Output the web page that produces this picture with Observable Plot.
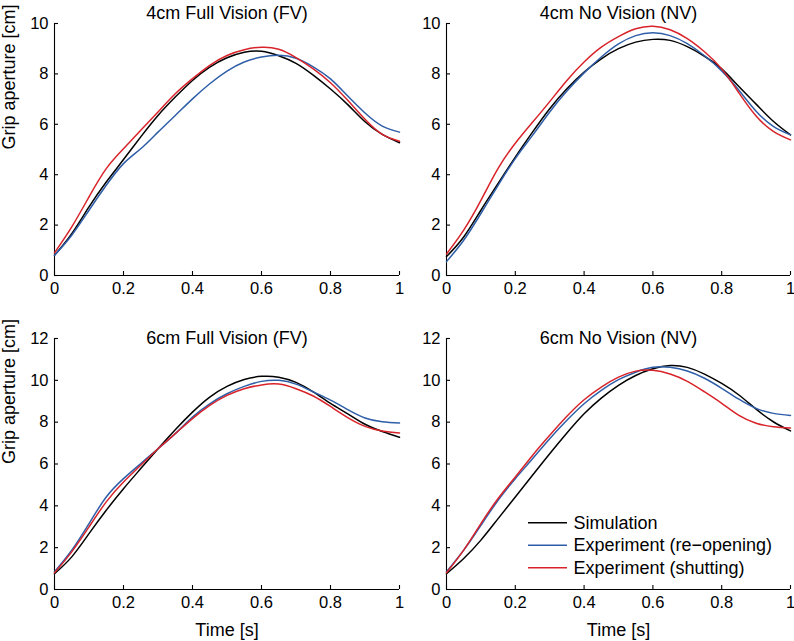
<!DOCTYPE html>
<html><head><meta charset="utf-8">
<script src="https://cdn.jsdelivr.net/npm/d3@7"></script>
<script src="https://cdn.jsdelivr.net/npm/@observablehq/plot@0.6"></script>
<style>
body{margin:0;background:#fff;}
#root{position:relative;width:794px;height:641px;overflow:hidden;font-family:"Liberation Sans",Arial,sans-serif;background:#fff;}
.panel{position:absolute;}
#legend{position:absolute;left:0;top:0;}
</style></head><body><div id="root"></div>
<script>
// ---- data ----
const time = [0,0.05,0.1,0.15,0.2,0.25,0.3,0.35,0.4,0.45,0.5,0.55,0.6,0.65,0.7,0.75,0.8,0.85,0.9,0.95,1];
const seriesNames = ["Simulation","Experiment (re\u2212opening)","Experiment (shutting)"];
const seriesColors = ["#000000","#2f5ea8","#d8232a"];
const panelTitles = ["4cm Full Vision (FV)","4cm No Vision (NV)","6cm Full Vision (FV)","6cm No Vision (NV)"];
const xTicks = [0,0.2,0.4,0.6,0.8,1];
const yTicksTop = [0,2,4,6,8,10];
const yTicksBottom = [0,2,4,6,8,10,12];
const yLabel = "Grip aperture [cm]";
const xLabel = "Time [s]";

// 4cm FV
const sim4FV  = [0.8,1.66,2.72,3.71,4.6,5.5,6.35,7.08,7.74,8.27,8.64,8.86,8.9,8.72,8.42,7.95,7.4,6.78,6.1,5.6,5.27];
const reo4FV  = [0.8,1.6,2.59,3.58,4.44,5.03,5.69,6.35,7.01,7.61,8.11,8.47,8.67,8.74,8.62,8.28,7.8,7.12,6.45,5.93,5.69];
const shut4FV = [0.9,1.93,3.12,4.24,5.03,5.76,6.49,7.21,7.81,8.34,8.73,8.96,9.06,8.98,8.65,8.2,7.65,6.95,6.2,5.6,5.33];
// 4cm NV
const sim4NV  = [0.75,1.53,2.59,3.65,4.7,5.69,6.62,7.41,8.07,8.6,9.0,9.26,9.37,9.33,9.08,8.7,8.2,7.5,6.8,6.12,5.58];
const reo4NV  = [0.55,1.4,2.46,3.58,4.64,5.56,6.49,7.32,8.04,8.67,9.19,9.52,9.63,9.52,9.2,8.72,8.12,7.35,6.52,5.92,5.58];
const shut4NV = [0.85,1.8,2.98,4.25,5.25,6.08,6.9,7.74,8.47,9.06,9.48,9.79,9.89,9.75,9.4,8.88,8.2,7.25,6.33,5.72,5.38];
// 6cm FV
const sim6FV  = [0.75,1.56,2.67,3.79,4.82,5.78,6.73,7.64,8.48,9.2,9.71,10.04,10.19,10.15,9.9,9.45,8.9,8.4,7.9,7.55,7.28];
const reo6FV  = [0.85,1.88,3.15,4.42,5.3,6.02,6.73,7.45,8.24,8.88,9.36,9.71,9.95,10.0,9.82,9.45,9.05,8.6,8.2,8.02,7.96];
const shut6FV = [0.8,1.8,2.99,4.19,5.14,5.94,6.73,7.45,8.17,8.8,9.28,9.6,9.78,9.82,9.6,9.25,8.75,8.22,7.8,7.58,7.48];
// 6cm NV
const sim6NV  = [0.75,1.48,2.36,3.39,4.42,5.46,6.49,7.48,8.4,9.15,9.76,10.23,10.55,10.71,10.62,10.3,9.85,9.3,8.62,8.02,7.58];
const reo6NV  = [0.85,1.88,3.07,4.27,5.3,6.25,7.21,8.09,8.88,9.52,10.03,10.39,10.62,10.62,10.45,10.1,9.62,9.1,8.66,8.42,8.32];
const shut6NV = [0.8,1.88,3.15,4.35,5.38,6.41,7.37,8.28,9.07,9.68,10.15,10.44,10.48,10.3,9.95,9.45,8.9,8.32,7.95,7.78,7.72];

const panelData = [
  [sim4FV, reo4FV, shut4FV],
  [sim4NV, reo4NV, shut4NV],
  [sim6FV, reo6FV, shut6FV],
  [sim6NV, reo6NV, shut6NV]
];

// ---- layout ----
const layouts = [
  {left:0,   top:0,   width:410, height:300, mL:54, mR:11, mT:23, mB:25, yMax:10, yTicks:yTicksTop,    titleDy:-5, showX:false, showY:true},
  {left:400, top:0,   width:394, height:300, mL:46, mR:4,  mT:23, mB:25, yMax:10, yTicks:yTicksTop,    titleDy:-5, showX:false, showY:false},
  {left:0,   top:310, width:410, height:331, mL:54, mR:11, mT:28, mB:52, yMax:12, yTicks:yTicksBottom, titleDy:5,  showX:true,  showY:true},
  {left:400, top:310, width:394, height:331, mL:46, mR:4,  mT:28, mB:52, yMax:12, yTicks:yTicksBottom, titleDy:5,  showX:true,  showY:false}
];

const root = document.getElementById("root");
const font = "'Liberation Sans', Arial, Helvetica, sans-serif";

layouts.forEach((L, i) => {
  const rows = [];
  seriesNames.forEach((s, j) => panelData[i][j].forEach((v, k) => rows.push({t: time[k], v, s})));
  const plotW = L.width - L.mL - L.mR, plotH = L.height - L.mT - L.mB;
  const chart = Plot.plot({
    width: L.width, height: L.height,
    marginLeft: L.mL, marginRight: L.mR, marginTop: L.mT, marginBottom: L.mB,
    style: {fontFamily: font, fontSize: "16.5px", color: "#000", background: "transparent", overflow: "visible"},
    x: {domain: [0, 1], ticks: xTicks, tickFormat: d => String(d), tickSize: 0, tickPadding: 7, label: null},
    y: {domain: [0, L.yMax], ticks: L.yTicks, tickFormat: d => String(d), tickSize: 0, tickPadding: 6, label: null},
    color: {domain: seriesNames, range: seriesColors},
    marks: [
      Plot.ruleY([0], {stroke: "#000", strokeWidth: 1.1}),
      Plot.ruleX([0], {stroke: "#000", strokeWidth: 1.1}),
      Plot.tickX(xTicks, {x: d => d, insetTop: plotH - 4, stroke: "#000", strokeWidth: 1.1}),
      Plot.tickY(L.yTicks, {y: d => d, insetRight: plotW - 4, stroke: "#000", strokeWidth: 1.1}),
      Plot.line(rows, {x: "t", y: "v", z: "s", stroke: "s", curve: "natural", strokeWidth: 1.5}),
      Plot.text([panelTitles[i]], {frameAnchor: "top", dy: L.titleDy, lineAnchor: "bottom", fontSize: 18, fill: "#000"}),
      L.showY ? Plot.text([yLabel], {frameAnchor: "left", dx: -45, rotate: -90, fontSize: 18, fill: "#000"}) : null,
      L.showX ? Plot.text([xLabel], {frameAnchor: "bottom", dy: 46, lineAnchor: "bottom", fontSize: 18, fill: "#000"}) : null
    ]
  });
  const div = document.createElement("div");
  div.className = "panel";
  div.style.left = L.left + "px";
  div.style.top = L.top + "px";
  div.appendChild(chart);
  root.appendChild(div);
});

// ---- legend (inside bottom-right panel) ----
const ns = "http://www.w3.org/2000/svg";
const lg = document.createElementNS(ns, "svg");
lg.setAttribute("id", "legend");
lg.setAttribute("width", 794);
lg.setAttribute("height", 641);
seriesNames.forEach((name, j) => {
  const y = 522.7 + j * 22.5;
  const ln = document.createElementNS(ns, "line");
  ln.setAttribute("x1", 528); ln.setAttribute("x2", 567);
  ln.setAttribute("y1", y); ln.setAttribute("y2", y);
  ln.setAttribute("stroke", seriesColors[j]); ln.setAttribute("stroke-width", 1.5);
  lg.appendChild(ln);
  const tx = document.createElementNS(ns, "text");
  tx.setAttribute("x", 573.5); tx.setAttribute("y", y + 6.2);
  tx.setAttribute("font-family", font); tx.setAttribute("font-size", 18);
  tx.setAttribute("fill", "#000");
  tx.textContent = name;
  lg.appendChild(tx);
});
root.appendChild(lg);
</script></body></html>
